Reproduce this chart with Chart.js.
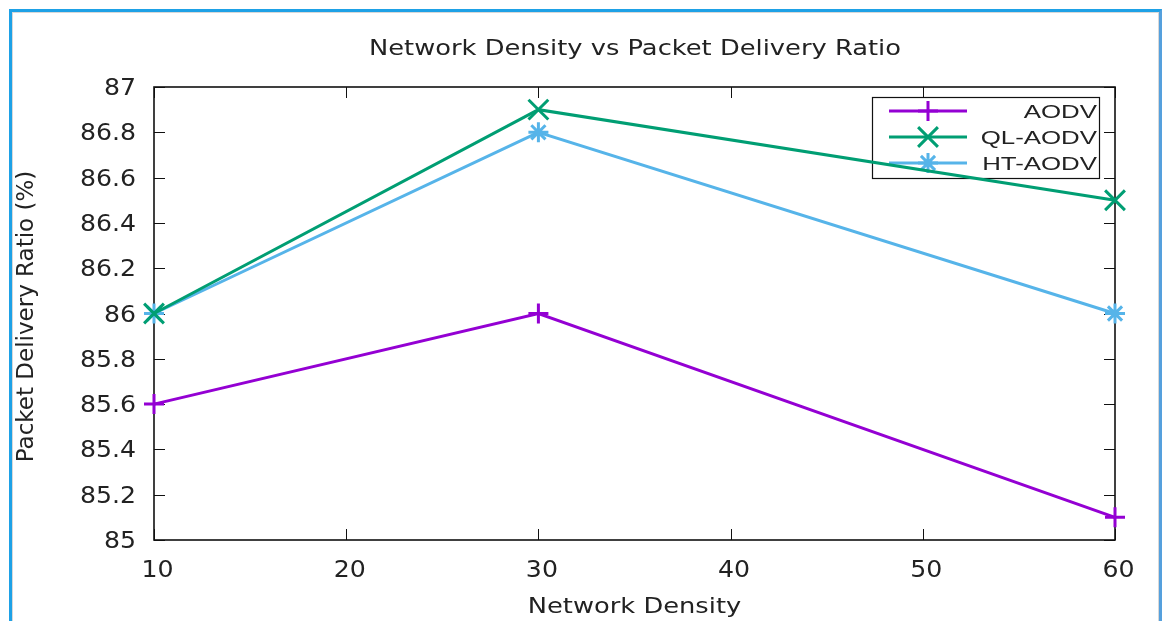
<!DOCTYPE html>
<html>
<head>
<meta charset="utf-8">
<script src="https://cdn.jsdelivr.net/npm/chart.js@4/dist/chart.umd.min.js"></script>
<style>
  html, body { margin: 0; padding: 0; background: #fff; }
  #wrap { position: relative; width: 1162px; height: 621px; overflow: hidden; }
  #frame {
    position: absolute; left: 9px; top: 9px; width: 1153px; height: 700px;
    border-top: 3px solid #1ea1e6; border-left: 3px solid #1ea1e6; border-right: 3px solid #55a0dd;
    box-shadow: inset 1px 1px 0 #d8d8d8, inset -1px 0 0 #d8d8d8;
    box-sizing: border-box; background: #fff;
  }
  #chart { position: absolute; left: 0; top: 0; }
</style>
</head>
<body>
<div id="wrap">
  <div id="frame"></div>
  <canvas id="chart" width="1162" height="621"></canvas>
</div>
<script>
// Network density (x) and packet delivery ratio (%) per protocol
const density = [10, 30, 60];
const aodv   = [85.6, 86.0, 85.1];
const qlAodv = [86.0, 86.9, 86.5];
const htAodv = [86.0, 86.8, 86.0];

const xTicks = [10, 20, 30, 40, 50, 60];
const yTicks = [85, 85.2, 85.4, 85.6, 85.8, 86, 86.2, 86.4, 86.6, 86.8, 87];

const chartTitle = 'Network Density vs Packet Delivery Ratio';
const xTitle = 'Network Density';
const yTitle = 'Packet Delivery Ratio (%)';

const FONT = '"DejaVu Sans"';
const TEXT = '#222';

function pts(ys) { return density.map((x, i) => ({ x, y: ys[i] })); }

// text drawn with a horizontal stretch (wide sans look)
function wideText(ctx, text, x, y, opts) {
  const o = Object.assign({ size: 22, sx: 1, align: 'center', rot: 0, family: FONT }, opts);
  ctx.save();
  ctx.translate(x, y);
  if (o.rot) ctx.rotate(o.rot);
  ctx.scale(o.sx, 1);
  ctx.font = o.size + 'px ' + o.family;
  ctx.fillStyle = TEXT;
  ctx.textAlign = o.align;
  ctx.textBaseline = 'alphabetic';
  ctx.fillText(text, 0, 0);
  ctx.restore();
}

// frame around the plot area with inward ticks on all four sides
const framePlugin = {
  id: 'frameTicks',
  beforeDatasetsDraw(chart) {
    const { ctx, chartArea: a, scales: { x, y } } = chart;
    const L = 11;
    ctx.save();
    ctx.strokeStyle = '#111';
    ctx.lineWidth = 1;
    ctx.beginPath();
    x.ticks.forEach(t => {
      const p = Math.round(x.getPixelForValue(t.value)) + 0.5;
      ctx.moveTo(p, a.bottom); ctx.lineTo(p, a.bottom - L);
      ctx.moveTo(p, a.top); ctx.lineTo(p, a.top + L);
    });
    y.ticks.forEach(t => {
      const p = Math.round(y.getPixelForValue(t.value)) + 0.5;
      ctx.moveTo(a.left, p); ctx.lineTo(a.left + L, p);
      ctx.moveTo(a.right, p); ctx.lineTo(a.right - L, p);
    });
    ctx.stroke();
    ctx.lineWidth = 1.6;
    ctx.strokeRect(a.left, a.top, a.right - a.left, a.bottom - a.top);
    ctx.restore();
  }
};

// tick labels, axis titles and chart title
const labelPlugin = {
  id: 'labels',
  afterDraw(chart) {
    const { ctx, chartArea: a, scales: { x, y } } = chart;
    x.ticks.forEach(t => {
      wideText(ctx, String(t.value), x.getPixelForValue(t.value) + 3.5, 577, { size: 22.5, sx: 1.12 });
    });
    y.ticks.forEach(t => {
      wideText(ctx, String(+t.value.toFixed(1)), 136, y.getPixelForValue(t.value) + 8,
        { size: 22.5, sx: 1.12, align: 'right' });
    });
    const cx = (a.left + a.right) / 2;
    wideText(ctx, chartTitle, cx + 0.5, 55, { size: 22, sx: 1.17 });
    wideText(ctx, xTitle, cx, 613, { size: 22, sx: 1.17 });
    wideText(ctx, yTitle, 33, 316.5, { size: 23, sx: 1, rot: -Math.PI / 2 });
  }
};

// boxed key in the upper right of the plot
const keyPlugin = {
  id: 'keyBox',
  beforeDatasetsDraw(chart) {
    const { ctx } = chart;
    const box = { l: 872, t: 97, r: 1099, b: 178 };
    const rowY = [111, 137, 163];
    ctx.save();
    ctx.strokeStyle = '#111';
    ctx.lineWidth = 1.2;
    ctx.strokeRect(box.l + 0.5, box.t + 0.5, box.r - box.l, box.b - box.t);
    chart.data.datasets.forEach((ds, i) => {
      const yy = rowY[i];
      ctx.strokeStyle = ds.borderColor;
      ctx.lineWidth = 3;
      ctx.beginPath();
      ctx.moveTo(889, yy); ctx.lineTo(967, yy);
      ctx.stroke();
      Chart.helpers.drawPoint(ctx, {
        pointStyle: ds.pointStyle, radius: ds.pointRadius, borderWidth: ds.pointBorderWidth, rotation: 0
      }, 928, yy);
      wideText(ctx, ds.label, 1097, yy + 7, { size: 19, sx: 1.36, align: 'right', family: '"Liberation Sans"' });
    });
    ctx.restore();
  }
};

function series(label, data, color, style, radius) {
  return {
    label, data: pts(data),
    borderColor: color, backgroundColor: color,
    borderWidth: 3,
    pointStyle: style, pointRadius: radius, pointHoverRadius: radius,
    pointBorderWidth: 3, pointBorderColor: color,
    clip: false, tension: 0
  };
}

new Chart(document.getElementById('chart'), {
  type: 'line',
  data: {
    datasets: [
      series('AODV', aodv, '#9400d3', 'cross', 10),
      series('QL-AODV', qlAodv, '#009e73', 'crossRot', 14),
      series('HT-AODV', htAodv, '#56b4e9', 'star', 10)
    ]
  },
  options: {
    responsive: false,
    animation: false,
    events: [],
    layout: { padding: { top: 87, right: 47, bottom: 0, left: 0 } },
    plugins: {
      legend: { display: false },
      tooltip: { enabled: false },
      title: { display: false }
    },
    scales: {
      x: {
        type: 'linear', min: 10, max: 60,
        afterBuildTicks(s) { s.ticks = xTicks.map(v => ({ value: v })); },
        afterFit(s) { s.height = 81; },
        grid: { display: false, drawTicks: false },
        border: { display: false },
        ticks: { display: false }
      },
      y: {
        type: 'linear', min: 85, max: 87,
        afterBuildTicks(s) { s.ticks = yTicks.map(v => ({ value: v })); },
        afterFit(s) { s.width = 154; },
        grid: { display: false, drawTicks: false },
        border: { display: false },
        ticks: { display: false }
      }
    }
  },
  plugins: [framePlugin, keyPlugin, labelPlugin]
});
</script>
</body>
</html>
